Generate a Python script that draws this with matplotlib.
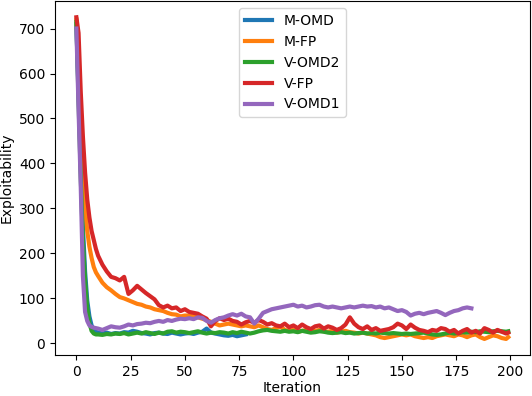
import matplotlib
matplotlib.use('Agg')
import matplotlib.pyplot as plt

# Iteration grids (dense at the start, every 2nd iteration afterwards)
x_full = list(range(11)) + list(range(12, 199, 2)) + [199]
x_m_omd = list(range(11)) + list(range(12, 79, 2))
x_v_omd1 = list(range(11)) + list(range(12, 183, 2))

m_omd = [710, 560, 400, 260, 160, 95, 60, 40, 32, 26, 24,
         22, 24, 21, 23, 22, 25, 24, 28, 26, 23, 22, 20, 23, 24, 22, 21, 24,
         22, 20, 22, 23, 21, 24, 26, 33, 24, 22, 20, 18, 17, 19, 16, 18, 20]

m_fp = [720, 640, 480, 360, 300, 250, 215, 190, 170, 158, 150,
        135, 125, 118, 110, 103, 100, 96, 92, 88, 86, 82, 80, 76, 74, 72,
        68, 65, 64, 60, 62, 62, 60, 58, 55, 52, 48, 44, 40, 42, 44, 42, 40,
        38, 40, 38, 36, 40, 36, 32, 30, 34, 38, 30, 28, 30, 26, 28, 30, 26,
        28, 30, 27, 26, 28, 24, 26, 28, 25, 24, 22, 24, 22, 20, 18, 14, 12,
        14, 16, 18, 20, 18, 20, 16, 14, 12, 14, 12, 16, 18, 20, 18, 16, 20,
        18, 14, 18, 20, 14, 10, 14, 18, 16, 12, 10, 14]

v_omd2 = [715, 540, 370, 230, 140, 80, 45, 28, 22, 20, 20,
          19, 21, 20, 22, 21, 23, 20, 22, 24, 22, 25, 23, 21, 24, 22, 26, 27,
          24, 26, 25, 23, 25, 27, 24, 22, 24, 23, 25, 24, 22, 25, 23, 26, 24,
          22, 24, 27, 29, 30, 28, 27, 26, 28, 26, 27, 25, 28, 26, 24, 25, 27,
          26, 24, 23, 24, 25, 23, 24, 22, 23, 24, 22, 23, 22, 24, 23, 22, 23,
          22, 21, 22, 21, 22, 23, 24, 22, 20, 19, 20, 22, 24, 22, 23, 25, 24,
          26, 25, 27, 26, 25, 27, 28, 27, 26, 27]

v_fp = [725, 690, 560, 460, 380, 320, 280, 250, 230, 210, 195,
        175, 160, 148, 145, 140, 148, 110, 118, 128, 120, 112, 105, 98, 85,
        80, 84, 78, 80, 72, 76, 70, 68, 66, 60, 55, 38, 50, 56, 52, 55, 50,
        48, 42, 47, 50, 46, 52, 48, 42, 45, 40, 38, 44, 36, 40, 34, 42, 36,
        32, 38, 40, 33, 38, 35, 30, 34, 42, 58, 44, 36, 32, 38, 30, 34, 28,
        30, 32, 36, 44, 40, 32, 42, 35, 30, 28, 25, 30, 28, 34, 32, 26, 30,
        22, 28, 32, 24, 28, 22, 34, 30, 24, 30, 26, 22, 24]

v_omd1 = [700, 520, 350, 150, 70, 50, 40, 37, 35, 34, 33,
          30, 34, 38, 36, 35, 38, 42, 40, 43, 44, 46, 45, 48, 50, 48, 52, 50,
          53, 55, 54, 56, 54, 58, 57, 50, 46, 52, 56, 58, 62, 65, 62, 66, 60,
          58, 44, 55, 68, 72, 76, 78, 80, 82, 84, 86, 82, 84, 80, 82, 85, 86,
          82, 80, 82, 80, 78, 80, 82, 80, 82, 84, 82, 83, 80, 82, 78, 80, 76,
          72, 74, 70, 62, 66, 68, 65, 68, 70, 72, 68, 63, 68, 72, 74, 78, 80,
          78]

labels = ['M-OMD', 'M-FP', 'V-OMD2', 'V-FP', 'V-OMD1']

fig, ax = plt.subplots(figsize=(5.32, 3.96), dpi=100)
fig.subplots_adjust(left=0.103, right=0.996, top=0.997, bottom=0.1035)

series = [(x_m_omd, m_omd), (x_full, m_fp), (x_full, v_omd2),
          (x_full, v_fp), (x_v_omd1, v_omd1)]
for (xs, ys), lab in zip(series, labels):
    ax.plot(xs, ys, linewidth=3, label=lab)

ax.set_xlabel('Iteration', labelpad=1.5)
ax.set_ylabel('Exploitability')
ax.set_xticks([0, 25, 50, 75, 100, 125, 150, 175, 200])
ax.legend(loc='upper center')

fig.savefig('out.png', dpi=100)
